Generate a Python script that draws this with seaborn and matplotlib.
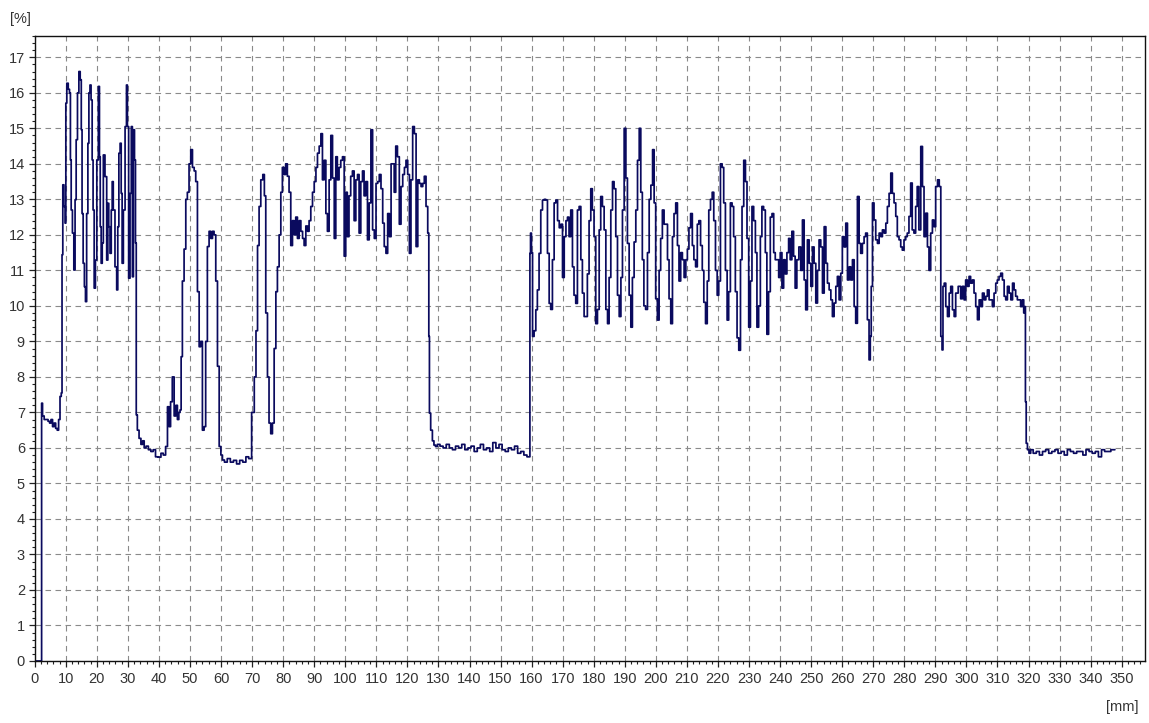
import matplotlib
matplotlib.use("Agg")
import matplotlib.pyplot as plt
from matplotlib.ticker import MultipleLocator
import seaborn as sns

# Strain profile along the sample: position [mm] and value [%]
pos_mm = [
    0, 2.2, 2.25, 2.8, 3.3, 4.0, 4.6, 5.0, 5.5, 6.0, 6.5, 7.0, 7.5, 7.9, 8.4, 8.7,
    8.9, 9.2, 9.6, 9.97, 10.08, 10.6, 11.0, 11.4, 11.6, 11.9, 12.4, 12.8, 13.2, 13.5,
    14.05, 14.4, 14.9, 15.1, 15.4, 15.8, 16.2, 16.5, 16.95, 17.3, 17.6, 18.0, 18.3,
    18.7, 18.9, 19.4, 19.7, 20.3, 20.7, 21.0, 21.2, 21.6, 21.9, 22.3, 22.96, 23.4,
    23.7, 24.0, 24.5, 24.8, 25.1, 25.5, 26.2, 26.6, 26.9, 27.3, 27.7, 28.0, 28.3,
    28.8, 29.4, 29.7, 30.0, 30.5, 30.9, 31.3, 31.6, 31.97, 32.3, 32.6, 32.8,
    33.3, 33.9, 34.5, 35.0, 35.5, 36.2, 37.0, 37.8, 38.5, 39.3, 40.3, 41.0, 41.8,
    42.5, 43.0, 43.5, 44.0, 44.6, 45.2, 45.7, 46.2, 46.6, 47.0, 47.3, 47.8, 48.4,
    48.9, 49.4, 50.0, 50.5, 51.1, 51.6, 52.1, 52.7, 53.2, 53.7, 54.3, 54.8, 55.3,
    55.9, 56.4, 57.0, 57.5, 58.0, 58.6, 59.1, 59.7, 60.2, 60.7, 61.5, 62.5, 63.5,
    64.5, 65.5, 66.5, 67.5, 68.5, 69.3, 70.4, 71.0, 71.5, 72.0, 72.5, 73.1, 73.8,
    74.1, 74.7, 75.2, 75.7, 76.3, 76.8, 77.4, 77.9, 78.4, 79.0, 79.5, 80.0, 80.5,
    81.1, 81.6, 82.2, 82.7, 83.3, 83.8, 84.3, 84.9, 85.4, 86.0, 86.5, 87.0, 87.6,
    88.1, 88.6, 89.2, 89.7, 90.3, 90.8, 91.3, 91.9, 92.4, 92.9, 93.5, 94.0, 94.5,
    95.1, 95.6, 96.2, 96.7, 97.2, 97.7, 98.3, 98.8, 99.4, 99.9, 100.4, 100.9,
    101.5, 102.0, 102.6, 103.1, 103.7, 104.2, 104.7, 105.3, 105.8, 106.3, 106.9,
    107.4, 108.0, 108.5, 109.1, 109.6, 110.2, 110.7, 111.2, 111.8, 112.3, 112.8,
    113.4, 113.9, 114.5, 115.0, 115.5, 116.0, 116.5, 117.1, 117.7, 118.2, 118.8,
    119.3, 119.8, 120.4, 120.9, 121.4, 122.0, 122.5, 123.1, 123.6, 124.1, 124.7,
    125.2, 125.7, 126.3, 126.8, 127.0, 127.2, 127.8, 128.3, 128.8, 129.3,
    130, 131, 132, 133, 134, 135, 136, 137, 138, 139, 140, 141, 142, 143, 144,
    145, 146, 147, 148, 149, 150, 151, 152, 153, 154, 155, 156, 157, 158, 159,
    159.4, 159.5, 159.8, 160.1, 160.5, 161.1, 161.6, 162.1, 162.7, 163.2, 163.8,
    164.3, 164.8, 165.4, 165.9, 166.4, 167.0, 167.5, 168.1, 168.6, 169.2, 169.7,
    170.2, 170.8, 171.3, 171.8, 172.3, 172.9, 173.4, 173.9, 174.5, 175.0, 175.6,
    176.1, 176.6, 177.2, 177.7, 178.2, 178.8, 179.3, 179.8, 180.4, 180.9, 181.5,
    182.0, 182.5, 183.1, 183.6, 184.2, 184.7, 185.2, 185.8, 186.3, 186.8, 187.4,
    187.9, 188.5, 189.0, 189.5, 190.1, 190.6, 191.1, 191.7, 192.2, 192.7, 193.3,
    193.8, 194.4, 194.9, 195.4, 195.9, 196.4, 197.0,
    197.6, 198.1, 198.7, 199.2, 199.7, 200.2, 200.8, 201.3, 201.8, 202.4, 202.9,
    203.5, 204.0, 204.5, 205.1, 205.6, 206.1, 206.7, 207.2, 207.7, 208.3, 208.8,
    209.4, 209.9, 210.4, 210.9, 211.5, 212.0, 212.5, 213.1, 213.6, 214.1, 214.7,
    215.2, 215.7, 216.3, 216.8, 217.3, 217.9, 218.4, 218.9, 219.5, 220.0, 220.5,
    221.1, 221.6, 222.1, 222.7, 223.2, 223.7, 224.3, 224.8, 225.3, 225.9, 226.4,
    227.0, 227.5, 228.0, 228.6, 229.1, 229.6, 230.2, 230.7, 231.2, 231.8, 232.3,
    232.8, 233.4, 233.9, 234.4, 235.0, 235.5, 236.0, 236.6, 237.1, 237.7, 238.2,
    238.7, 239.3, 239.8, 240.3, 240.9, 241.4, 241.9, 242.5, 243.0, 243.5, 244.1,
    244.6, 245.1, 245.7,
    246.4, 246.9, 247.5, 248.0, 248.5, 249.1, 249.6, 250.2, 250.7, 251.2, 251.8,
    252.3, 252.8, 253.4, 253.9, 254.5, 255.0, 255.5, 256.1, 256.6, 257.1, 257.7,
    258.2, 258.7, 259.3, 259.8, 260.3, 260.9, 261.4, 262.0, 262.5, 263.0, 263.6,
    264.1, 264.6, 265.2, 265.7, 266.2, 266.8, 267.3, 267.8, 268.4, 268.9, 269.2,
    269.5, 270.0, 270.5, 271.1, 271.6, 272.2, 272.7, 273.2, 273.8, 274.3, 274.8,
    275.4, 275.9, 276.4, 277.0, 277.5, 278.0, 278.6, 279.1, 279.6, 280.2, 280.7,
    281.2, 281.8, 282.3, 282.8, 283.4, 283.9, 284.4, 285.0, 285.6, 286.1, 286.6,
    287.2, 287.7, 288.2, 288.8, 289.3, 289.8, 290.4, 291.0, 291.5, 292.0, 292.3,
    292.6, 293.1, 293.6, 294.2, 294.7, 295.2, 295.8, 296.3, 296.8,
    297.9, 298.4, 299.0, 299.5, 300.0, 300.6, 301.1, 301.6, 302.2, 302.7, 303.3,
    303.8, 304.4, 304.9, 305.4, 306.0, 306.5, 307.0, 307.6, 308.1, 308.6, 309.2,
    309.7, 310.2, 310.8, 311.3, 311.9, 312.4, 312.9, 313.5, 314.0, 314.6, 315.1,
    315.6, 316.1, 316.7, 317.2, 317.7, 318.3, 318.6, 318.9, 319.1, 319.4, 319.9,
    320.4, 321, 322, 323, 324, 325, 326, 327, 328, 329, 330, 331, 332, 333, 334,
    335, 336, 337, 338, 339, 340, 341, 342, 343, 344, 345, 346, 347, 347.8,
]

strain_pct = [
    0, 0, 7.26, 6.9, 6.8, 6.8, 6.75, 6.7, 6.8, 6.6, 6.7, 6.55, 6.5, 6.8, 7.45, 7.55,
    11.44, 13.41, 12.8, 12.33, 15.71, 16.27, 16.1, 16.0, 14.11, 12.7, 12.05, 11.01,
    12.99, 14.68, 16.0, 16.6, 16.37, 14.96, 12.6, 11.2, 10.54, 10.12, 12.6, 14.58,
    16.0, 16.22, 15.8, 14.11, 12.7, 10.5, 11.29, 14.11, 16.18, 14.2, 12.23, 11.2,
    11.77, 14.25, 13.64, 11.29, 12.89, 12.23, 11.48, 12.7, 13.5, 12.7, 11.1, 10.45,
    12.23, 14.3, 14.58, 13.17, 11.2, 12.7, 15.05, 16.22, 15.05, 10.78, 13.17,
    15.05, 10.82, 14.96, 14.11, 11.77, 6.93,
    6.5, 6.27, 6.1, 6.2, 6.0, 6.05, 5.95, 5.9, 5.95, 5.75, 5.74, 5.85, 5.8, 6.04,
    7.16, 6.6, 7.3, 8.0, 6.9, 7.2, 6.8, 7.0, 7.07, 8.57, 10.7, 11.6, 13.0, 13.2,
    14.0, 14.4, 13.9, 13.8, 13.5, 10.4, 8.85, 9.0, 6.5, 6.6, 9.0, 11.67, 12.1,
    11.9, 12.1, 12.0, 10.7, 8.3, 6.04, 5.8, 5.66, 5.6, 5.7, 5.6, 5.65, 5.55, 5.65,
    5.6, 5.75, 5.7, 7.0, 8.0, 9.3, 11.7, 12.8, 13.55, 13.7, 13.1, 9.8, 8.0, 6.7,
    6.4, 6.7, 8.8, 10.4, 11.1, 12.0, 13.2, 13.9, 13.7, 14.0, 13.65, 13.2, 11.7,
    12.4, 12.0, 12.5, 11.9, 12.4, 12.1, 11.9, 11.7, 12.25, 12.1, 12.4, 12.8, 13.2,
    13.5, 13.9, 14.3, 14.5, 14.85, 13.55, 14.1, 12.6, 12.1, 13.55, 14.8, 13.6,
    11.9, 14.2, 13.55, 13.9, 14.1, 14.2, 11.4, 13.2, 11.95, 13.1, 13.65, 13.8,
    12.4, 13.55, 13.7, 12.05, 13.5, 13.8, 13.1, 13.5, 11.86, 12.9, 14.96, 12.14,
    11.9, 13.45, 13.5, 13.7, 13.3, 12.33, 11.67, 11.48, 12.6, 11.95, 14.0, 14.0,
    13.2, 14.5, 14.2, 12.3, 13.36, 13.7, 13.9, 14.1, 13.7, 11.48, 13.55, 15.05,
    14.85, 11.67, 13.55, 13.45, 13.36, 13.45, 13.65, 12.8, 12.05, 9.14, 6.98, 6.5,
    6.2, 6.08, 6.04,
    6.1, 6.05, 6.0, 6.1, 6.0, 5.95, 6.05, 6.0, 6.1, 5.95, 6.0, 6.05, 5.9, 6.0,
    6.1, 5.95, 6.0, 5.9, 6.15, 6.0, 6.1, 5.95, 5.9, 6.0, 5.95, 6.05, 5.85, 5.9,
    5.8, 5.75,
    5.75, 11.48, 12.05, 11.5, 9.14, 9.3, 9.89, 10.45, 11.48, 12.7, 12.98, 13.0,
    12.98, 11.48, 10.07, 9.9, 11.3, 12.9, 12.98, 12.4, 12.2, 12.3, 10.8, 11.95,
    12.4, 12.5, 11.95, 12.7, 11.1, 10.3, 10.07, 12.7, 12.8, 11.3, 10.36, 9.7, 9.7,
    10.9, 12.4, 13.3, 12.7, 11.95, 9.5, 9.9, 12.14, 13.08, 12.8, 12.14, 9.9, 9.5,
    10.8, 12.7, 13.5, 13.3, 11.95, 10.3, 9.7, 10.8, 12.7, 15.0, 13.6, 11.76, 10.3,
    9.4, 10.8, 11.8, 12.7, 14.1, 15.0, 13.2, 11.3, 10.0, 9.9,
    11.5, 13.0, 13.4, 14.4, 12.9, 10.2, 9.6, 11.0, 11.9, 12.7, 12.3, 12.3, 11.3,
    10.2, 9.5, 11.95, 12.6, 12.9, 11.7, 10.7, 11.5, 11.3, 10.8, 11.3, 11.6, 12.2,
    12.6, 11.7, 11.3, 11.1, 12.3, 12.4, 11.7, 11.0, 10.1, 9.5, 10.7, 12.7, 13.0,
    13.2, 12.4, 11.0, 10.3, 10.7, 14.0, 13.9, 12.9, 11.0, 9.6, 10.4, 12.9, 12.8,
    11.95, 10.4, 9.1, 8.75, 11.3, 12.8, 14.1, 13.5, 11.9, 9.4, 10.7, 12.8, 12.4,
    11.5, 9.4, 10.0, 11.95, 12.8, 12.7, 11.5, 9.2, 10.4, 12.5, 12.6, 11.5, 11.3,
    11.3, 10.8, 11.5, 10.5, 11.3, 10.9, 11.5, 11.9, 11.3, 12.1, 11.4, 10.5, 11.3,
    11.66, 11.0, 12.42, 10.73, 9.89, 11.86, 11.2, 10.55, 11.66, 11.2, 10.08, 11.0,
    11.86, 11.66, 10.36, 12.23, 11.2, 10.64, 10.45, 10.17, 9.7, 10.08, 10.55,
    10.83, 10.17, 10.92, 11.95, 11.66, 12.33, 10.73, 11.1, 10.73, 11.3, 9.98,
    9.51, 13.08, 11.76, 11.48, 11.76, 11.95, 12.05, 9.61, 8.48, 9.14, 10.55, 12.9,
    12.42, 11.86, 11.76, 12.05, 11.95, 12.14, 12.05, 12.33, 12.8, 13.17, 13.74,
    13.17, 12.9, 12.52, 11.95, 11.86, 11.66, 11.57, 11.86, 11.95, 12.05, 12.52,
    13.46, 12.14, 12.05, 12.8, 13.36, 12.14, 14.49, 13.36, 11.95, 12.61, 11.66,
    11.0, 12.05, 12.42, 12.23, 13.36, 13.55, 13.36, 9.14, 8.76, 10.55, 10.64,
    9.98, 9.7, 10.36, 10.55, 9.89, 9.7, 10.36,
    10.55, 10.2, 10.55, 10.17, 10.73, 10.55, 10.83, 10.64, 10.73, 10.36, 9.98,
    9.61, 10.17, 9.98, 10.36, 10.17, 10.27, 10.45, 10.17, 10.17, 9.98, 10.36,
    10.64, 10.73, 10.83, 10.92, 10.73, 10.27, 10.17, 10.55, 10.36, 10.17, 10.64,
    10.45, 10.27, 10.17, 10.17, 9.98, 10.17, 9.8, 9.98, 7.3, 6.13, 5.95,
    5.85, 5.95, 5.85, 5.9, 5.8, 5.9, 5.95, 5.85, 5.9, 5.95, 5.85, 5.9, 5.8, 5.95,
    5.9, 5.85, 5.9, 5.9, 5.8, 5.95, 5.9, 5.85, 5.9, 5.75, 5.95, 5.9, 5.9, 5.95,
    5.95,
]

x_ticks = list(range(0, 351, 10))
y_ticks = list(range(0, 18))

sns.set_style("white")
plt.rcParams["font.family"] = ["Liberation Sans", "DejaVu Sans"]

W, H = 1149, 723
fig = plt.figure(figsize=(W / 100, H / 100), dpi=100)
left, right, top, bottom = 34.7, 1145, 36, 661
ax = fig.add_axes([left / W, 1 - bottom / H, (right - left) / W, (bottom - top) / H])

sns.lineplot(x=pos_mm, y=strain_pct, ax=ax, color="#0a0a5e", linewidth=1.25,
             estimator=None, sort=False, drawstyle="steps-mid")

ax.set_xlim(0, 357.5)
ax.set_ylim(0, 17.6)
ax.set_xticks(x_ticks)
ax.set_xticklabels([str(v) for v in x_ticks])
ax.set_yticks(y_ticks)
ax.set_yticklabels([str(v) for v in y_ticks])
ax.xaxis.set_minor_locator(MultipleLocator(2))
ax.yaxis.set_minor_locator(MultipleLocator(0.2))
ax.tick_params(which="major", direction="out", length=4, width=0.9, color="#222222",
               labelsize=10.5, labelcolor="#333333", pad=4,
               bottom=True, left=True)
ax.tick_params(axis="y", which="major", pad=3)
ax.tick_params(which="minor", direction="out", length=2.5, width=0.8, color="#222222",
               bottom=True, left=True)
ax.grid(True, which="major", linestyle=(0, (5, 4)), color="#8a8a8a", linewidth=0.8)
ax.set_axisbelow(True)
for s in ax.spines.values():
    s.set_visible(True)
    s.set_color("#111111")
    s.set_linewidth(1.0)
ax.set_xlabel("")
ax.set_ylabel("")

fig.text(20.5 / W, 1 - 18.5 / H, "[%]", ha="center", va="center", fontsize=10.5, color="#333333")
fig.text(1122.5 / W, 1 - 707.5 / H, "[mm]", ha="center", va="center", fontsize=10.5, color="#333333")

fig.savefig("out.png", dpi=100, facecolor="white")
